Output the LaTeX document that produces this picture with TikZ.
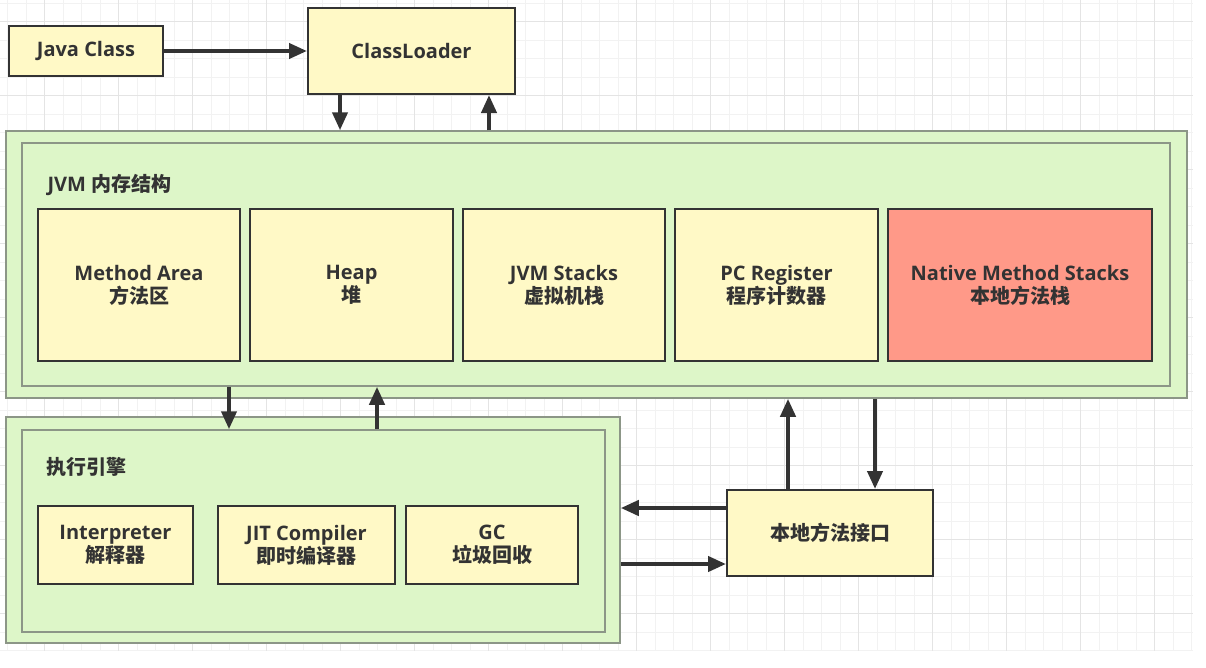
\documentclass[tikz,border=0pt]{standalone}
\usepackage{fontspec}
\setmainfont{Open Sans}
\newfontfamily\cjk{Noto Sans CJK SC}
\usetikzlibrary{arrows.meta}
\definecolor{boxyellow}{RGB}{255,249,198}
\definecolor{regiongreen}{RGB}{221,246,200}
\definecolor{nativered}{RGB}{255,153,136}
\definecolor{linec}{RGB}{51,51,51}
\definecolor{regionline}{RGB}{140,150,135}
\definecolor{gridminor}{RGB}{242,242,242}
\definecolor{gridmajor}{RGB}{228,228,228}
\tikzset{
  box/.style={draw=linec,line width=2pt,fill=boxyellow,text=linec,align=center,inner sep=0pt,
    font=\bfseries\fontsize{20}{23}\selectfont},
  region/.style={draw=regionline,line width=1.5pt,fill=regiongreen,inner sep=0pt},
  title/.style={anchor=west,text=linec,font=\bfseries\fontsize{20}{23}\selectfont},
  arr/.style={-{Triangle[width=15pt,length=18pt]},line width=4pt,draw=linec}
}
\begin{document}
\begin{tikzpicture}[x=1pt,y=-1pt]
  \useasboundingbox (0,0) rectangle (1206,667);
  % background grid
  \foreach \i in {0,...,64} \draw[gridminor,line width=1pt] (7.7+18.5*\i,0)--(7.7+18.5*\i,651);
  \foreach \j in {0,...,35} \draw[gridminor,line width=1pt] (0,3.2+18.5*\j)--(1193,3.2+18.5*\j);
  \foreach \i in {0,...,15} \draw[gridmajor,line width=1pt] (44.7+74*\i,0)--(44.7+74*\i,651);
  \foreach \j in {0,...,8} \draw[gridmajor,line width=1pt] (0,21.7+74*\j)--(1193,21.7+74*\j);
  % loading
  \node[box,minimum width=154pt,minimum height=50pt] (javaclass) at (86,51) {Java Class};
  \node[box,minimum width=207pt,minimum height=86pt] (classloader) at (411.5,51) {ClassLoader};
  % memory areas
  \node[region,minimum width=1181pt,minimum height=267pt] (jvm) at (596.5,264.5) {};
  \node[region,minimum width=1148pt,minimum height=243pt] (jvmin) at (596,264.5) {};
  \node[title] (jvmtitle) at (44,185) {JVM {\cjk 内存结构}};
  \node[box,minimum width=202pt,minimum height=152pt] (method) at (139,285) {Method Area\\{\cjk 方法区}};
  \node[box,minimum width=203pt,minimum height=152pt] (heap) at (351.5,285) {Heap\\{\cjk 堆}};
  \node[box,minimum width=202pt,minimum height=152pt] (stacks) at (564,285) {JVM Stacks\\{\cjk 虚拟机栈}};
  \node[box,minimum width=203pt,minimum height=152pt] (pc) at (776.5,285) {PC Register\\{\cjk 程序计数器}};
  \node[box,fill=nativered,minimum width=264pt,minimum height=152pt] (native) at (1020,285) {Native Method Stacks\\{\cjk 本地方法栈}};
  % execution engine
  \node[region,minimum width=614pt,minimum height=226pt] (exec) at (313,530) {};
  \node[region,minimum width=583pt,minimum height=202pt] (execin) at (313.5,531) {};
  \node[title] (exectitle) at (43,467) {\cjk 执行引擎};
  \node[box,minimum width=155pt,minimum height=78pt] (interp) at (115.5,545) {Interpreter\\{\cjk 解释器}};
  \node[box,minimum width=177pt,minimum height=78pt] (jit) at (306.5,545) {JIT Compiler\\{\cjk 即时编译器}};
  \node[box,minimum width=172pt,minimum height=78pt] (gc) at (492,545) {GC\\{\cjk 垃圾回收}};
  \node[box,minimum width=206pt,minimum height=86pt] (jni) at (830,533) {\cjk 本地方法接口};
  % connectors
  \coordinate (xa) at (340,0);
  \coordinate (xb) at (489,0);
  \coordinate (xc) at (229,0);
  \coordinate (xd) at (377,0);
  \coordinate (xe) at (788,0);
  \coordinate (xf) at (875,0);
  \coordinate (ya) at (0,508);
  \coordinate (yb) at (0,564);
  \draw[arr] (javaclass.east) -- (classloader.west);
  \draw[arr] (classloader.south -| xa) -- (jvm.north -| xa);
  \draw[arr] (jvm.north -| xb) -- (classloader.south -| xb);
  \draw[arr] (jvmin.south -| xc) -- (execin.north -| xc);
  \draw[arr] (execin.north -| xd) -- (jvmin.south -| xd);
  \draw[arr] (jni.north -| xe) -- (jvm.south -| xe);
  \draw[arr] (jvm.south -| xf) -- (jni.north -| xf);
  \draw[arr] (jni.west |- ya) -- (exec.east |- ya);
  \draw[arr] (exec.east |- yb) -- (jni.west |- yb);
\end{tikzpicture}
\end{document}
